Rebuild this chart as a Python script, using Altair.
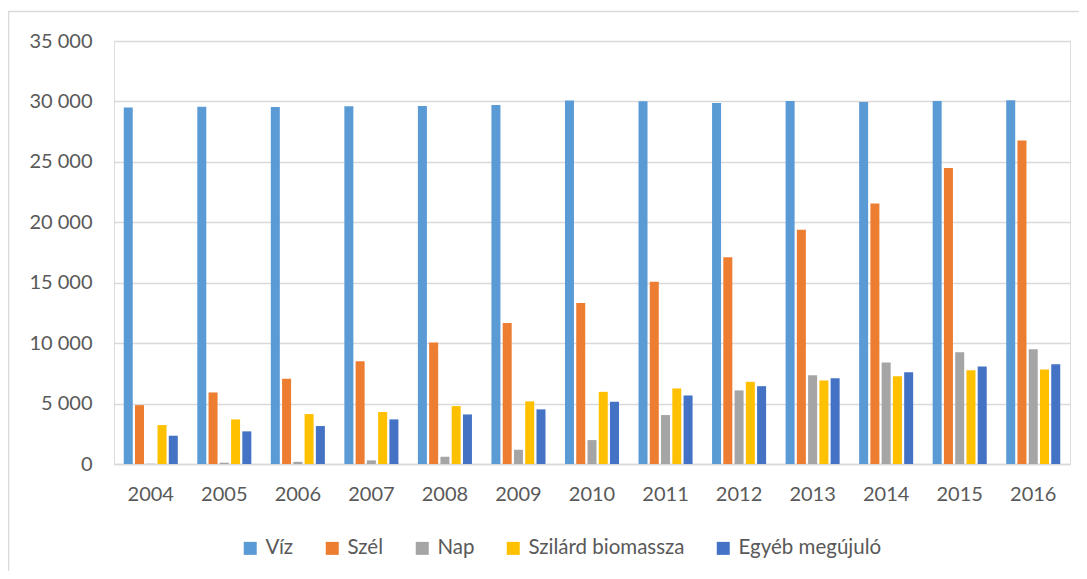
import altair as alt
import pandas as pd

years = ["2004", "2005", "2006", "2007", "2008", "2009", "2010",
         "2011", "2012", "2013", "2014", "2015", "2016"]
series = ["Víz", "Szél", "Nap", "Szilárd biomassza", "Egyéb megújuló"]
colors = ["#5B9BD5", "#ED7D31", "#A5A5A5", "#FFC000", "#4472C4"]

viz = [29500, 29570, 29540, 29600, 29630, 29710, 30070, 30010, 29870, 30040, 29960, 30040, 30090]
szel = [4870, 5920, 7050, 8510, 10050, 11670, 13320, 15090, 17100, 19380, 21560, 24500, 26760]
nap = [20, 110, 180, 300, 600, 1180, 1980, 4050, 6090, 7350, 8400, 9250, 9500]
bio = [3220, 3690, 4130, 4300, 4790, 5180, 5970, 6250, 6800, 6910, 7270, 7760, 7820]
egyeb = [2340, 2700, 3140, 3690, 4100, 4520, 5150, 5670, 6440, 7100, 7600, 8070, 8260]

y_ticks = [0, 5000, 10000, 15000, 20000, 25000, 30000, 35000]

rows = []
for name, vals in zip(series, [viz, szel, nap, bio, egyeb]):
    for yr, v in zip(years, vals):
        rows.append({"year": yr, "series": name, "value": v})
df = pd.DataFrame(rows)

FONT = "Lato"
TXT = "#595959"
GRID = "#D9D9D9"
W, H = 956, 423

bars = alt.Chart(df).mark_bar().encode(
    x=alt.X("year:N", sort=years,
            scale=alt.Scale(paddingInner=0.265, paddingOuter=0.1325),
            axis=alt.Axis(title=None, labelAngle=0, ticks=False, domain=True,
                          domainColor=GRID, domainWidth=1.5, grid=False,
                          labelFont=FONT, labelFontSize=20, labelColor=TXT,
                          labelPadding=20)),
    xOffset=alt.XOffset("series:N", sort=series,
                        scale=alt.Scale(paddingInner=0.2, paddingOuter=0)),
    y=alt.Y("value:Q", scale=alt.Scale(domain=[0, 35000], nice=False),
            axis=alt.Axis(title=None, values=y_ticks, ticks=False, domain=False,
                          grid=True, gridColor=GRID, gridWidth=1.5,
                          labelFont=FONT, labelFontSize=20, labelColor=TXT,
                          labelPadding=22,
                          labelExpr="replace(format(datum.value, ','), ',', ' ')")),
    color=alt.Color("series:N", sort=series,
                    scale=alt.Scale(domain=series, range=colors),
                    legend=alt.Legend(title=None, orient="none", direction="horizontal",
                                      legendX=126, legendY=497,
                                      symbolType="square", symbolSize=169,
                                      symbolStrokeWidth=0, symbolOpacity=1,
                                      labelFont=FONT, labelFontSize=20.5,
                                      labelColor=TXT, columnPadding=28,
                                      labelOffset=5)),
)

border = alt.Chart(pd.DataFrame({"a": [0]})).mark_rect(
    fill=None, stroke=GRID, strokeWidth=1.5
).encode(
    x=alt.value(-105.5), x2=alt.value(1000),
    y=alt.value(-29.5), y2=alt.value(700),
)

chart = alt.layer(border, bars).properties(
    width=W, height=H,
    autosize=alt.AutoSizeParams(type="none"),
    padding={"left": 106, "top": 33, "right": 9, "bottom": 107},
).configure_view(stroke=None).configure(background="white")

chart.save("out.html", embed_options={"renderer": "svg", "actions": False})
